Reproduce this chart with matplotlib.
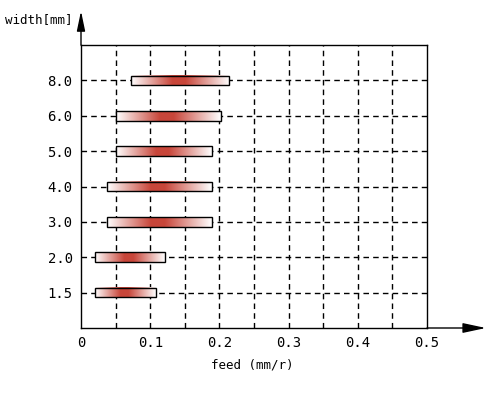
import matplotlib.pyplot as plt
import numpy as np
from matplotlib.colors import LinearSegmentedColormap
from matplotlib.patches import Rectangle

# feed range (mm/r) recommended for each cutting width
widths = ['1.5', '2.0', '3.0', '4.0', '5.0', '6.0', '8.0']
feed_min = [0.02, 0.02, 0.038, 0.038, 0.051, 0.051, 0.072]
feed_max = [0.108, 0.121, 0.189, 0.189, 0.189, 0.202, 0.214]
xticks = [0, 0.1, 0.2, 0.3, 0.4, 0.5]
xticklabels = ['0', '0.1', '0.2', '0.3', '0.4', '0.5']

plt.rcParams['font.family'] = ['DejaVu Sans Mono']

fig = plt.figure(figsize=(4.98, 3.93), dpi=100)
ax = fig.add_axes([81 / 498, 1 - 328 / 393, 346 / 498, 283 / 393])

cmap = LinearSegmentedColormap.from_list(
    'bar', [(0, '#ffffff'), (0.42, '#c8463a'), (0.55, '#c8463a'), (1, '#ffffff')])
grad = np.linspace(0, 1, 256).reshape(1, -1)
h = 0.27

for i, (lo, hi) in enumerate(zip(feed_min, feed_max)):
    y = i + 1
    ax.imshow(grad, extent=[lo, hi, y - h / 2, y + h / 2], aspect='auto',
              cmap=cmap, zorder=3, interpolation='bilinear')
    ax.add_patch(Rectangle((lo, y - h / 2), hi - lo, h, fill=False,
                           edgecolor='black', lw=1.0, zorder=4))

ax.set_xlim(0, 0.5)
ax.set_ylim(0, 8)
ax.set_xticks(xticks)
ax.set_xticklabels(xticklabels)
ax.set_yticks(range(1, len(widths) + 1))
ax.set_yticklabels(widths)
ax.tick_params(length=0, labelsize=10, pad=6)

# dashed grid
for x in np.arange(0.05, 0.5, 0.05):
    ax.axvline(x, color='black', lw=1, ls=(0, (4, 3)), zorder=1)
for y in range(1, len(widths) + 1):
    ax.axhline(y, color='black', lw=1, ls=(0, (4, 3)), zorder=1)

for s in ax.spines.values():
    s.set_linewidth(1)

# axis arrows
ax.annotate('', xy=(1.17, 0), xytext=(1, 0), xycoords='axes fraction',
            arrowprops=dict(arrowstyle='-|>,head_length=1.4,head_width=0.3',
                            color='black', lw=1, shrinkA=0, shrinkB=0))
ax.annotate('', xy=(0, 1.12), xytext=(0, 1), xycoords='axes fraction',
            arrowprops=dict(arrowstyle='-|>,head_length=1.2,head_width=0.25',
                            color='black', lw=1, shrinkA=0, shrinkB=0))

fig.text(5 / 498, 1 - 20 / 393, 'width[mm]', fontsize=9, va='center', ha='left')
fig.text(252 / 498, 1 - 365 / 393, 'feed (mm/r)', fontsize=9, va='center', ha='center')

fig.savefig('out.png', dpi=100)
